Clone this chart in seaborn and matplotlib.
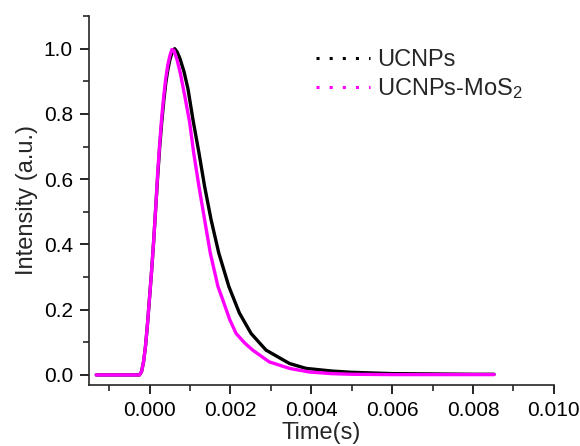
import numpy as np
import pandas as pd
import seaborn as sns
import matplotlib.pyplot as plt
from matplotlib.lines import Line2D
from matplotlib.ticker import MultipleLocator

# %% data
time_ucnp = [-0.00132, -0.0008, -0.0004, -0.00025, -0.0002, -0.00015, -0.0001, -0.00005,
             0.0, 0.00005, 0.0001, 0.00015, 0.0002, 0.00025, 0.0003, 0.00035, 0.0004,
             0.00045, 0.0005, 0.00056, 0.00062, 0.00068, 0.00075, 0.00085, 0.00095,
             0.00107, 0.00122, 0.00136, 0.00152, 0.00171, 0.00196, 0.00222, 0.00251,
             0.00288, 0.00346, 0.00387, 0.0045, 0.0050, 0.0060, 0.0070, 0.0080, 0.00852]
int_ucnp = [0.0, 0.0, 0.0, 0.0, 0.01, 0.04, 0.09, 0.16,
            0.24, 0.32, 0.41, 0.51, 0.61, 0.70, 0.775, 0.84, 0.895,
            0.935, 0.965, 0.99, 1.0, 0.99, 0.97, 0.93, 0.876,
            0.784, 0.681, 0.578, 0.476, 0.374, 0.271, 0.19, 0.127,
            0.076, 0.035, 0.020, 0.012, 0.008, 0.004, 0.003, 0.002, 0.002]

time_mos2 = [-0.00132, -0.0008, -0.0004, -0.00025, -0.0002, -0.00015, -0.0001, -0.00005,
             0.0, 0.00005, 0.0001, 0.00015, 0.0002, 0.00025, 0.0003, 0.00035, 0.0004,
             0.00045, 0.0005, 0.00055, 0.0006, 0.00068, 0.00076, 0.00087, 0.00099,
             0.00109, 0.00122, 0.00136, 0.0015, 0.00169, 0.00181, 0.00198, 0.00214,
             0.00235, 0.00255, 0.00296, 0.00346, 0.00395, 0.0045, 0.0050, 0.0060,
             0.0070, 0.0080, 0.00852]
int_mos2 = [0.0, 0.0, 0.0, 0.0, 0.01, 0.04, 0.09, 0.16,
            0.24, 0.32, 0.41, 0.51, 0.62, 0.71, 0.79, 0.855, 0.91,
            0.95, 0.978, 0.997, 0.995, 0.965, 0.925, 0.855, 0.774,
            0.681, 0.578, 0.476, 0.374, 0.271, 0.230, 0.17, 0.127,
            0.098, 0.076, 0.040, 0.020, 0.009, 0.004, 0.002, 0.001,
            0.001, 0.001, 0.001]

labels = ['UCNPs', 'UCNPs-MoS$_2$']
colors = ['black', '#ff00ff']

x_ticks = [0.000, 0.002, 0.004, 0.006, 0.008, 0.010]
y_ticks = [0.0, 0.2, 0.4, 0.6, 0.8, 1.0]

# %% tidy
df = pd.concat([
    pd.DataFrame({'time': time_ucnp, 'intensity': int_ucnp, 'sample': labels[0]}),
    pd.DataFrame({'time': time_mos2, 'intensity': int_mos2, 'sample': labels[1]}),
], ignore_index=True)

# %% plot
sns.set_style('ticks')
plt.rcParams['font.family'] = ['Liberation Sans', 'DejaVu Sans']
plt.rcParams['mathtext.fontset'] = 'custom'
plt.rcParams['mathtext.rm'] = 'Liberation Sans'
plt.rcParams['mathtext.it'] = 'Liberation Sans'

fig = plt.figure(figsize=(5.8, 4.46), dpi=100)
ax = fig.add_axes([0.1534, 0.1374, 0.8016, 0.8266])

for lab, col in zip(labels, colors):
    sns.lineplot(data=df[df['sample'] == lab], x='time', y='intensity',
                 color=col, linewidth=2.4, sort=False, ax=ax, legend=False)

ax.set_xlim(-0.0015, 0.0100)
ax.set_ylim(-0.03, 1.1)
ax.set_xticks(x_ticks)
ax.set_xticklabels([f'{v:.3f}' for v in x_ticks])
ax.set_yticks(y_ticks)
ax.set_yticklabels([f'{v:.1f}' for v in y_ticks])
ax.xaxis.set_minor_locator(MultipleLocator(0.001))
ax.yaxis.set_minor_locator(MultipleLocator(0.1))
ax.tick_params(which='major', direction='out', length=6.5, width=1.2, labelsize=15,
               colors='black', pad=5)
ax.tick_params(which='minor', direction='out', length=4, width=1.2)
for s in ['left', 'bottom']:
    ax.spines[s].set_linewidth(1.2)
sns.despine(ax=ax)

ax.set_xlabel('Time(s)', fontsize=17, labelpad=2)
ax.set_ylabel('Intensity (a.u.)', fontsize=17, labelpad=4)

# legend drawn with dotted handles like the original
handles = [Line2D([], [], color=c, linestyle=(0, (1, 3.3)), linewidth=2.2) for c in colors]
ax.legend(handles, labels, loc='upper left', bbox_to_anchor=(0.488, 0.91), frameon=False,
          fontsize=17, handlelength=2.3, handletextpad=0.3, labelspacing=0.2,
          borderpad=0, borderaxespad=0)

fig.savefig('out.png', dpi=100)
